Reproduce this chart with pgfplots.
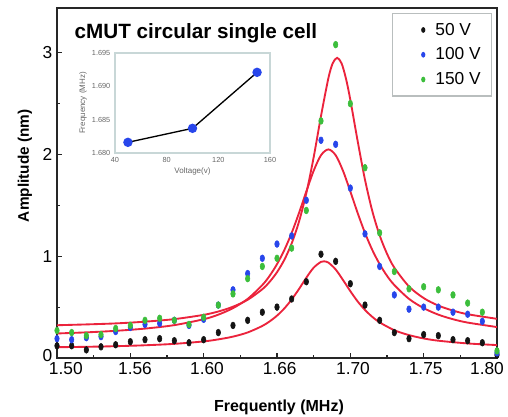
\documentclass[border=0pt]{standalone}
\usepackage{fontspec}
\setmainfont{Liberation Sans}
\usepackage{pgfplots}
\pgfplotsset{compat=1.18}
\definecolor{ptBlack}{RGB}{20,20,20}
\definecolor{ptBlue}{RGB}{40,70,235}
\definecolor{ptGreen}{RGB}{60,190,60}
\definecolor{fitRed}{RGB}{235,35,60}
\definecolor{insetFrame}{RGB}{200,215,215}
\definecolor{legendFrame}{RGB}{185,190,190}

% measured points, frequency (MHz) vs amplitude (nm)
\pgfplotstableread{
f     a50   a100  a150
1.50  0.12  0.19  0.27
1.51  0.12  0.18  0.25
1.52  0.08  0.20  0.22
1.53  0.11  0.21  0.23
1.54  0.13  0.26  0.29
1.55  0.16  0.30  0.32
1.56  0.18  0.33  0.37
1.57  0.19  0.34  0.39
1.58  0.17  0.37  0.37
1.59  0.15  0.32  0.33
1.60  0.18  0.38  0.40
1.61  0.25  0.52  0.52
1.62  0.32  0.67  0.63
1.63  0.37  0.83  0.78
1.64  0.45  0.98  0.90
1.65  0.50  1.12  0.98
1.66  0.58  1.20  1.08
1.67  0.75  1.55  1.45
1.68  1.02  2.14  2.33
1.69  0.95  2.10  3.08
1.70  0.73  1.67  2.50
1.71  0.52  1.22  1.87
1.72  0.37  0.90  1.23
1.73  0.25  0.62  0.85
1.74  0.19  0.48  0.68
1.75  0.23  0.50  0.70
1.76  0.22  0.50  0.67
1.77  0.18  0.45  0.62
1.78  0.17  0.43  0.54
1.79  0.15  0.36  0.45
1.80  0.03  0.05  0.07
}\measured

% fitted curves
\pgfplotstableread{
f      y
1.50   0.106
1.52   0.110
1.54   0.116
1.56   0.125
1.58   0.139
1.60   0.163
1.61   0.183
1.62   0.210
1.63   0.251
1.64   0.315
1.645  0.360
1.65   0.416
1.655  0.487
1.66   0.575
1.665  0.678
1.67   0.789
1.675  0.888
1.68   0.945
1.682  0.950
1.685  0.938
1.69   0.870
1.695  0.767
1.70   0.657
1.705  0.556
1.71   0.472
1.715  0.404
1.72   0.350
1.73   0.273
1.74   0.225
1.75   0.192
1.76   0.170
1.78   0.143
1.80   0.127
}\fitA
\pgfplotstableread{
f      y
1.50   0.241
1.52   0.252
1.54   0.267
1.56   0.289
1.58   0.323
1.60   0.381
1.61   0.426
1.62   0.490
1.63   0.581
1.64   0.717
1.645  0.808
1.65   0.922
1.655  1.061
1.66   1.229
1.665  1.425
1.67   1.637
1.675  1.840
1.68   1.993
1.685  2.050
1.69   1.993
1.695  1.840
1.70   1.637
1.705  1.425
1.71   1.229
1.715  1.061
1.72   0.922
1.725  0.808
1.73   0.717
1.74   0.581
1.75   0.490
1.76   0.426
1.77   0.381
1.78   0.348
1.80   0.304
}\fitB
\pgfplotstableread{
f      y
1.50   0.322
1.52   0.330
1.54   0.340
1.56   0.357
1.58   0.382
1.60   0.424
1.61   0.457
1.62   0.504
1.63   0.572
1.64   0.676
1.645  0.749
1.65   0.843
1.655  0.965
1.66   1.126
1.665  1.340
1.67   1.620
1.675  1.973
1.68   2.378
1.685  2.748
1.688  2.897
1.691  2.950
1.694  2.897
1.697  2.748
1.70   2.537
1.705  2.132
1.71   1.752
1.715  1.443
1.72   1.205
1.725  1.025
1.73   0.888
1.74   0.703
1.75   0.589
1.76   0.515
1.77   0.466
1.78   0.430
1.80   0.385
}\fitC

\pgfplotsset{every axis legend/.append style={draw=legendFrame, line width=0.9pt}}

\begin{document}
\begin{tikzpicture}
\begin{axis}[
    name=main,
    at={(0,0)}, anchor=south west,
    width=330pt, height=262.5pt, scale only axis,
    xmin=1.5, xmax=1.8, ymin=0, ymax=3.44,
    xtick={1.50,1.55,1.60,1.65,1.70,1.75,1.80},
    xticklabels={\makebox[0pt][l]{\hspace*{-6pt}1.50}, \hspace*{7pt}1.56,
      \hspace*{5pt}1.60, \hspace*{4pt}1.66, \hspace*{4pt}1.70,
      \hspace*{3pt}1.75, 1.80\hspace*{15pt}},
    minor x tick num=1,
    ytick={0,1,2,3}, yticklabels={\raisebox{4pt}{0},1,2,3},
    minor y tick num=1,
    xtick pos=bottom, ytick pos=left,
    /pgf/number format/assume math mode=true,
    tick label style={font=\fontsize{13}{15}\selectfont},
    major tick length=4pt, minor tick length=2.5pt,
    axis line style={draw=black!85, line width=1.1pt},
    tick style={black!85, line width=0.8pt},
    xlabel={Frequently (MHz)},
    ylabel={Amplitude (nm)},
    xlabel style={font=\fontsize{12}{14}\selectfont\bfseries,
      at={(axis description cs:0.5045,-0.14)}, anchor=center},
    ylabel style={font=\fontsize{11.5}{14}\selectfont\bfseries,
      at={(axis description cs:-0.0727,0.549)}, anchor=center},
    legend style={at={(axis description cs:0.9886,0.9857)}, anchor=north east,
      fill=white, font=\fontsize{13}{15}\selectfont,
      row sep=4pt, inner xsep=6pt, inner ysep=5pt},
    legend image code/.code={
      \path[draw=none, fill=none] (0,-0.05cm) rectangle (0.85cm,0.05cm);
      \draw[#1, mark size=1.1pt] plot coordinates {(0.6cm,0)};},
    legend cell align=left,
  ]
  \addplot[fitRed, line width=1.4pt, smooth, forget plot] table[x=f, y=y] {\fitA};
  \addplot[fitRed, line width=1.4pt, smooth, forget plot] table[x=f, y=y] {\fitB};
  \addplot[fitRed, line width=1.4pt, smooth, forget plot] table[x=f, y=y] {\fitC};
  \addplot[only marks, mark=*, mark size=1.7pt, ptBlack,
    mark options={yscale=1.5}] table[x=f, y=a50] {\measured};
  \addplot[only marks, mark=*, mark size=1.7pt, ptBlue,
    mark options={yscale=1.5}] table[x=f, y=a100] {\measured};
  \addplot[only marks, mark=*, mark size=1.7pt, ptGreen,
    mark options={yscale=1.5}] table[x=f, y=a150] {\measured};
  \legend{50 V, 100 V, 150 V}
  \node[anchor=base west, font=\fontsize{15.5}{18}\selectfont\bfseries]
    at (axis description cs:0.0295,0.914) {cMUT circular single cell};
\end{axis}

\begin{axis}[
    at={(43.5pt,153.75pt)}, anchor=south west,
    width=116.25pt, height=75pt, scale only axis,
    xmin=40, xmax=160, ymin=1.680, ymax=1.695,
    xtick={40,80,120,160},
    ytick={1.680,1.685,1.690,1.695},
    yticklabel style={/pgf/number format/fixed, /pgf/number format/precision=3,
      /pgf/number format/fixed zerofill},
    /pgf/number format/assume math mode=true,
    tick label style={font=\fontsize{5.5}{6}\selectfont, text=black!60},
    major tick length=0pt,
    axis line style={draw=insetFrame, line width=0.8pt},
    axis background/.style={fill=white},
    xlabel={Voltage(v)}, ylabel={Frequency (MHz)},
    label style={font=\fontsize{6}{7}\selectfont, text=black!60},
    xlabel style={yshift=3pt}, ylabel style={yshift=-3pt},
    scaled y ticks=false,
  ]
  \addplot[black, line width=1pt, mark=*, mark size=3pt,
    mark options={fill=ptBlue, draw=ptBlue}]
    coordinates {(50,1.6816) (100,1.6837) (150,1.6921)};
\end{axis}

\pgfresetboundingbox
\path[use as bounding box] (-42.75pt,-44.25pt) rectangle (338.25pt,268.5pt);
\end{tikzpicture}
\end{document}
